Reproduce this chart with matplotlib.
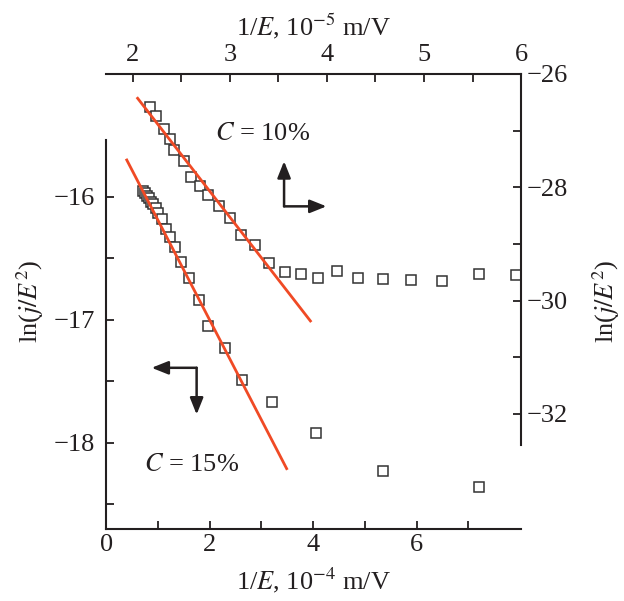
import matplotlib
matplotlib.use("Agg")
import matplotlib.pyplot as plt

plt.rcParams["font.family"] = ["Liberation Serif", "DejaVu Serif"]
plt.rcParams["mathtext.fontset"] = "stix"

# C = 15 %, bottom (1/E, 1e-4 m/V) / left axes
x15 = [0.72, 0.75, 0.79, 0.82, 0.86, 0.91, 0.97, 1.01, 1.08, 1.16, 1.24, 1.33,
       1.45, 1.60, 1.80, 1.97, 2.30, 2.63, 3.21, 4.05, 5.36, 7.20]
y15 = [-15.95, -15.97, -15.99, -16.01, -16.04, -16.06, -16.09, -16.13, -16.18,
       -16.26, -16.33, -16.41, -16.53, -16.66, -16.84, -17.05, -17.23, -17.49,
       -17.67, -17.92, -18.23, -18.36]
fit15_x = [0.40, 3.49]
fit15_y = [-15.70, -18.21]

# C = 10 %, top (1/E, 1e-5 m/V) / right axes
x10 = [2.18, 2.24, 2.32, 2.38, 2.42, 2.53, 2.60, 2.69, 2.78, 2.89, 3.00, 3.12,
       3.26, 3.40, 3.57, 3.73, 3.91, 4.10, 4.32, 4.58, 4.87, 5.19, 5.57, 5.95]
y10 = [-26.59, -26.74, -26.97, -27.15, -27.34, -27.53, -27.82, -27.97, -28.13,
       -28.33, -28.54, -28.85, -29.02, -29.33, -29.50, -29.53, -29.61, -29.47,
       -29.60, -29.62, -29.63, -29.65, -29.53, -29.55]
fit10_x = [2.05, 3.83]
fit10_y = [-26.43, -30.36]

bottom_ticks = [0, 2, 4, 6]
bottom_minor = [1, 3, 5, 7]
left_ticks = [-16, -17, -18]
left_minor = [-16.5, -17.5, -18.5]
top_ticks = [2, 3, 4, 5, 6]
top_minor = [2.5, 3.5, 4.5, 5.5]
right_ticks = [-26, -28, -30, -32]
right_minor = [-27, -29, -31]

FS = 19
RED = "#f04a25"
INK = "#231f20"

fig = plt.figure(figsize=(6.24, 6.01), dpi=100)
pos = [0.170, 0.120, 0.665, 0.757]
ax = fig.add_axes(pos)
ax2 = fig.add_axes(pos)
ax2.patch.set_visible(False)

mk = dict(ls="none", marker="s", ms=7.9, mfc="white", mec="#333333", mew=1.1, zorder=2)

ax.plot(x15, y15, **mk)
ax.plot(fit15_x, fit15_y, color=RED, lw=2.0, zorder=3)
ax2.plot(x10, y10, **mk)
ax2.plot(fit10_x, fit10_y, color=RED, lw=2.0, zorder=3)

ax.set_xlim(0, 8.02)
ax.set_ylim(-18.70, -15.0)
ax2.set_xlim(1.725, 6.0)
ax2.set_ylim(-34.03, -26.0)

ax.spines["top"].set_visible(False)
ax.spines["right"].set_visible(False)
ax.spines["left"].set_bounds(-18.70, -15.54)
ax2.spines["bottom"].set_visible(False)
ax2.spines["left"].set_visible(False)
ax2.spines["right"].set_bounds(-32.55, -26.0)
for a in (ax, ax2):
    for s in a.spines.values():
        s.set_linewidth(1.5)
        s.set_color(INK)

ax2.xaxis.tick_top()
ax2.yaxis.tick_right()
ax2.xaxis.set_label_position("top")
ax2.yaxis.set_label_position("right")

ax.set_xticks(bottom_ticks)
ax.set_xticks(bottom_minor, minor=True)
ax.set_yticks(left_ticks)
ax.set_yticks(left_minor, minor=True)
ax2.set_xticks(top_ticks)
ax2.set_xticks(top_minor, minor=True)
ax2.set_yticks(right_ticks)
ax2.set_yticks(right_minor, minor=True)

for a in (ax, ax2):
    a.tick_params(which="both", direction="in", length=5.5, width=1.3,
                  color=INK, labelsize=FS, labelcolor=INK)
ax.tick_params(axis="x", pad=4)
ax.tick_params(axis="y", pad=8)
ax2.tick_params(axis="x", pad=6)
ax2.tick_params(axis="y", pad=4)

ax.set_xlabel(r"1/$E$, 10$^{-4}$ m/V", fontsize=FS, color=INK)
ax.set_ylabel(r"ln($j/E^{2}$)", fontsize=FS, color=INK)
ax2.set_xlabel(r"1/$E$, 10$^{-5}$ m/V", fontsize=FS, color=INK)
ax2.set_ylabel(r"ln($j/E^{2}$)", fontsize=FS, color=INK)
ax.xaxis.set_label_coords(0.5, -0.080)
ax.yaxis.set_label_coords(-0.145, 0.5)
ax2.xaxis.set_label_coords(0.5, 1.085)
ax2.yaxis.set_label_coords(1.168, 0.5)

ax.text(3.03, -15.49, r"$C$ = 10%", fontsize=FS, color=INK, ha="center", va="center")
ax.text(1.65, -18.18, r"$C$ = 15%", fontsize=FS, color=INK, ha="center", va="center")

arrow = dict(arrowstyle="-|>,head_length=0.5,head_width=0.2", lw=1.8, color=INK,
             shrinkA=0, shrinkB=0, mutation_scale=20)
# upper pair points to top / right axes
ax.annotate("", xy=(3.44, -15.71), xytext=(3.44, -16.077), arrowprops=arrow)
ax.annotate("", xy=(4.26, -16.077), xytext=(3.44, -16.077), arrowprops=arrow)
# lower pair points to left / bottom axes
ax.annotate("", xy=(0.88, -17.39), xytext=(1.75, -17.39), arrowprops=arrow)
ax.annotate("", xy=(1.75, -17.77), xytext=(1.75, -17.39), arrowprops=arrow)

fig.savefig("out.png", dpi=100)
